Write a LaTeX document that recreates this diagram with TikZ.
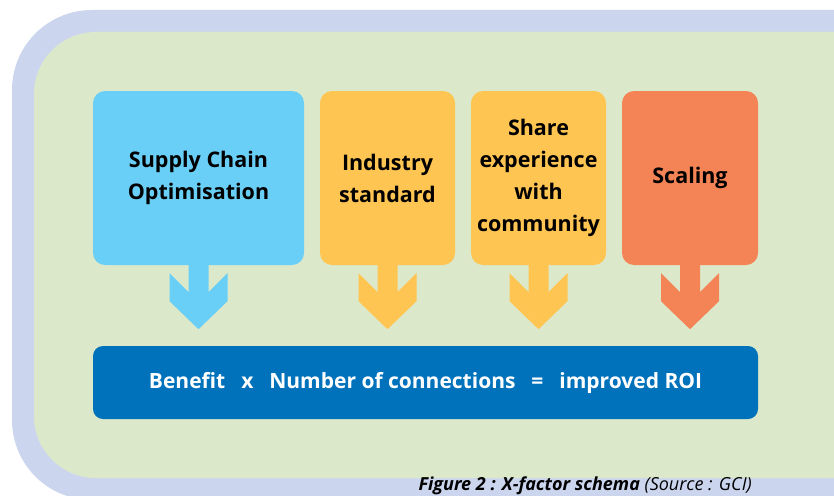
\documentclass[tikz,border=0pt]{standalone}
\usepackage{fontspec}
\setmainfont{Open Sans}
\usetikzlibrary{positioning,calc}
\definecolor{frameblue}{RGB}{203,214,238}
\definecolor{sage}{RGB}{220,232,202}
\definecolor{skyblue}{RGB}{106,207,246}
\definecolor{sunny}{RGB}{255,197,82}
\definecolor{coral}{RGB}{244,132,85}
\definecolor{roiblue}{RGB}{0,114,188}
\tikzstyle{factor} = [rounded corners=12pt,minimum height=174pt,align=center,text=black,font=\bfseries\fontsize{21.5}{32}\selectfont]
\tikzset{>=latex}

\begin{document}
\begin{tikzpicture}[x=1pt,y=-1pt]
    \useasboundingbox (0,0) rectangle (834,495);
    \fill [frameblue,rounded corners=80pt] (12,10) rectangle (920,500);
    \fill [sage,rounded corners=62pt] (34,32) rectangle (920,478);
    \node [factor,fill=skyblue,minimum width=211pt] (sco) at (198.5,178) {Supply Chain\\Optimisation};
    \node [factor,fill=sunny,minimum width=135pt] (ind) at (387.5,178) {Industry\\standard};
    \node [factor,fill=sunny,minimum width=135pt] (sha) at (538.5,178) {Share\\experience\\with\\community};
    \node [factor,fill=coral,minimum width=136pt] (sca) at (690,178) {Scaling};
    \foreach \n/\c in {sco/skyblue,ind/sunny,sha/sunny,sca/coral}
      \fill [\c] ($(\n.south)+(-10,-1)$) -- ++(0,28) -- ++(-19,-19) -- ++(0,28)
        -- ++(29,28) -- ++(29,-28) -- ++(0,-28) -- ++(-19,19) -- ++(0,-28) -- cycle;
    \node [fill=roiblue,rounded corners=10pt,minimum width=665pt,minimum height=73pt,text=white,
      font=\bfseries\fontsize{21}{24}\selectfont] (roi) at (425.5,382.5)
      {Benefit\enspace\ x\enspace\ Number of connections\enspace\ =\enspace\ improved ROI};
    \node [anchor=base east,inner sep=0pt,font=\fontsize{18}{20}\selectfont] (caption) at (752,490)
      {\bfseries\itshape Figure 2 : X-factor schema \mdseries(Source : GCI)};
  \end{tikzpicture}
\end{document}
